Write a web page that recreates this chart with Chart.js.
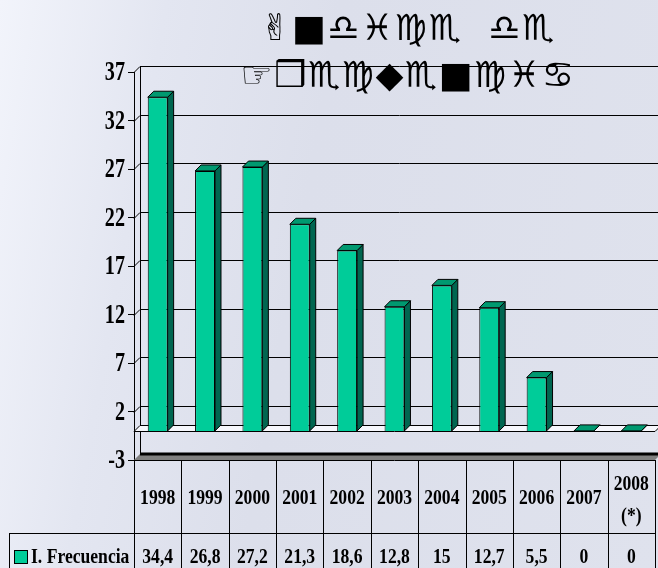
<!DOCTYPE html>
<html>
<head>
<meta charset="utf-8">
<script src="https://cdn.jsdelivr.net/npm/chart.js@4/dist/chart.umd.min.js"></script>
<style>
  html, body { margin: 0; padding: 0; }
  body {
    width: 658px; height: 568px; overflow: hidden; position: relative;
    background: linear-gradient(100deg, #f2f4fb 0%, #e3e6f1 22%, #dcdfeb 45%, #dfe2ed 100%);
  }
  #wrap { position: absolute; left: 0; top: 0; width: 658px; height: 568px; }
  .title {
    position: absolute; left: 108px; width: 600px; text-align: center;
    font-family: "DejaVu Sans", sans-serif; font-size: 36px; line-height: 40px;
    letter-spacing: 1.5px; color: #000; white-space: pre;
  }
</style>
</head>
<body>
<div id="wrap"><canvas id="chart" width="658" height="568"></canvas></div>
<div class="title" id="t1" style="top: 8px;"></div>
<div class="title" id="t2" style="top: 55px;"></div>
<script>
// title glyphs as shown in the picture (Wingdings rendering of "Índice de Frecuencia")
const titleLines = ['\u270C\u25A0\u264E\u2653\u264D\u264F  \u264E\u264F', '\u261E\u2752\u264F\u264D\u25C6\u264F\u25A0\u264D\u2653\u264B'];

const years = ['1998', '1999', '2000', '2001', '2002', '2003', '2004', '2005', '2006', '2007', ['2008', '(*)']];
const frecuencia = [34.4, 26.8, 27.2, 21.3, 18.6, 12.8, 15, 12.7, 5.5, 0, 0];
const seriesName = 'I. Frecuencia';
const yMin = -3;
const yMax = 37;
const yStep = 5;

document.getElementById('t1').textContent = titleLines[0];
document.getElementById('t2').textContent = titleLines[1];

const FRONT = '#00CC99';
const SIDE = '#006650';
const TOP = '#009970';
const DEPTH = 6;
const serif = "'Liberation Serif', 'Times New Roman', serif";

function fmt(v) {
  return String(v).replace('.', ',');
}

// the original uses a narrow bold serif, so squeeze the text sideways
function condensed(ctx, text, x, y, align, size, sx) {
  ctx.save();
  ctx.translate(x, y);
  ctx.scale(sx, 1);
  ctx.font = 'bold ' + size + 'px ' + serif;
  ctx.textAlign = align;
  ctx.textBaseline = 'middle';
  ctx.fillStyle = '#000';
  ctx.fillText(text, 0, 0);
  ctx.restore();
}

// back wall, gridlines, floor and zero plane
const walls = {
  id: 'walls',
  beforeDatasetsDraw(chart) {
    const ctx = chart.ctx;
    const { left, right, top, bottom } = chart.chartArea;
    const ys = chart.scales.y;
    const d = DEPTH;
    ctx.save();
    ctx.strokeStyle = '#000';
    ctx.lineWidth = 1;
    // gridlines on back wall with side wall connectors
    ys.ticks.forEach(t => {
      if (t.value === yMin) return;
      const y = Math.round(ys.getPixelForValue(t.value)) + 0.5;
      ctx.beginPath();
      ctx.moveTo(left, y);
      ctx.lineTo(left + d, y - d);
      ctx.lineTo(right + d, y - d);
      ctx.stroke();
    });
    // back wall left edge
    ctx.beginPath();
    ctx.moveTo(left + d + 0.5, top - d);
    ctx.lineTo(left + d + 0.5, bottom - d);
    ctx.stroke();
    // floor
    ctx.beginPath();
    ctx.moveTo(left, bottom);
    ctx.lineTo(left + d, bottom - d);
    ctx.lineTo(right + d, bottom - d);
    ctx.lineTo(right, bottom);
    ctx.closePath();
    ctx.fillStyle = '#808080';
    ctx.fill();
    ctx.lineWidth = 3;
    ctx.beginPath();
    ctx.moveTo(left + d, bottom - d);
    ctx.lineTo(right + d, bottom - d);
    ctx.stroke();
    // zero plane
    const y0 = Math.round(ys.getPixelForValue(0)) + 0.5;
    ctx.lineWidth = 1;
    ctx.beginPath();
    ctx.moveTo(left, y0);
    ctx.lineTo(left + d, y0 - d);
    ctx.lineTo(right + d, y0 - d);
    ctx.lineTo(right, y0);
    ctx.closePath();
    ctx.fillStyle = '#f6f7fc';
    ctx.fill();
    ctx.stroke();
    ctx.restore();
  },
  afterDatasetsDraw(chart) {
    const ctx = chart.ctx;
    const d = DEPTH;
    ctx.save();
    ctx.strokeStyle = '#000';
    ctx.lineWidth = 1;
    chart.getDatasetMeta(0).data.forEach(bar => {
      const p = bar.getProps(['x', 'y', 'base', 'width'], true);
      const l = p.x - p.width / 2;
      const r = p.x + p.width / 2;
      // side face
      ctx.beginPath();
      ctx.moveTo(r, p.y);
      ctx.lineTo(r + d, p.y - d);
      ctx.lineTo(r + d, p.base - d);
      ctx.lineTo(r, p.base);
      ctx.closePath();
      ctx.fillStyle = SIDE;
      ctx.fill();
      ctx.stroke();
      // top face
      ctx.beginPath();
      ctx.moveTo(l, p.y);
      ctx.lineTo(l + d, p.y - d);
      ctx.lineTo(r + d, p.y - d);
      ctx.lineTo(r, p.y);
      ctx.closePath();
      ctx.fillStyle = TOP;
      ctx.fill();
      ctx.stroke();
    });
    ctx.restore();
  }
};

// y labels in the condensed bold face, placed at the scale's tick positions
const yLabels = {
  id: 'yLabels',
  afterDraw(chart) {
    const ys = chart.scales.y;
    const x = chart.chartArea.left - 9;
    ys.ticks.forEach(t => {
      condensed(chart.ctx, String(t.value), x, ys.getPixelForValue(t.value) + 1, 'right', 28, 0.72);
    });
  }
};

// data table under the chart, columns taken from the category scale
const dataTable = {
  id: 'dataTable',
  afterDraw(chart) {
    const ctx = chart.ctx;
    const xs = chart.scales.x;
    const { left, right, bottom } = chart.chartArea;
    const step = (right - left) / years.length;
    const rowTop = bottom;
    const rowMid = bottom + 73;
    const rowEnd = 600;
    ctx.save();
    ctx.strokeStyle = '#000';
    ctx.lineWidth = 1;
    ctx.beginPath();
    ctx.moveTo(left, rowTop + 0.5);
    ctx.lineTo(right, rowTop + 0.5);
    ctx.moveTo(9, rowMid + 0.5);
    ctx.lineTo(right, rowMid + 0.5);
    ctx.moveTo(9.5, rowMid);
    ctx.lineTo(9.5, rowEnd);
    for (let i = 0; i <= years.length; i++) {
      const x = Math.round(left + i * step) + 0.5;
      ctx.moveTo(x, rowTop);
      ctx.lineTo(x, rowEnd);
    }
    ctx.stroke();
    ctx.restore();

    years.forEach((lab, i) => {
      const cx = xs.getPixelForValue(i);
      if (Array.isArray(lab)) {
        condensed(ctx, lab[0], cx, rowTop + 24, 'center', 22, 0.8);
        condensed(ctx, lab[1], cx, rowTop + 56, 'center', 22, 0.8);
      } else {
        condensed(ctx, lab, cx, rowTop + 38, 'center', 22, 0.8);
      }
      condensed(ctx, fmt(frecuencia[i]), cx, rowMid + 24, 'center', 22, 0.8);
    });
    // legend key
    ctx.save();
    ctx.strokeStyle = '#000';
    ctx.fillStyle = FRONT;
    ctx.fillRect(14.5, rowMid + 17.5, 13, 13);
    ctx.strokeRect(14.5, rowMid + 17.5, 13, 13);
    ctx.restore();
    condensed(ctx, seriesName, 31, rowMid + 24, 'left', 22, 0.8);
  }
};

new Chart(document.getElementById('chart'), {
  type: 'bar',
  data: {
    labels: years,
    datasets: [{
      label: seriesName,
      data: frecuencia,
      backgroundColor: FRONT,
      borderColor: '#000',
      borderWidth: 1,
      barPercentage: 0.42,
      categoryPercentage: 1
    }]
  },
  options: {
    responsive: false,
    animation: false,
    devicePixelRatio: 1,
    layout: { padding: { top: 72, bottom: 108, left: 0, right: 3 } },
    plugins: {
      legend: { display: false },
      tooltip: { enabled: false }
    },
    scales: {
      x: { display: false },
      y: {
        min: yMin,
        max: yMax,
        afterFit(s) { s.width = 134; },
        ticks: {
          stepSize: yStep,
          color: 'rgba(0,0,0,0)',
          padding: 3,
          font: { family: serif, size: 20, weight: 'bold' }
        },
        grid: { drawOnChartArea: false, drawTicks: true, tickLength: 6, color: '#000' },
        border: { display: true, color: '#000', width: 1 }
      }
    }
  },
  plugins: [walls, yLabels, dataTable]
});
</script>
</body>
</html>
